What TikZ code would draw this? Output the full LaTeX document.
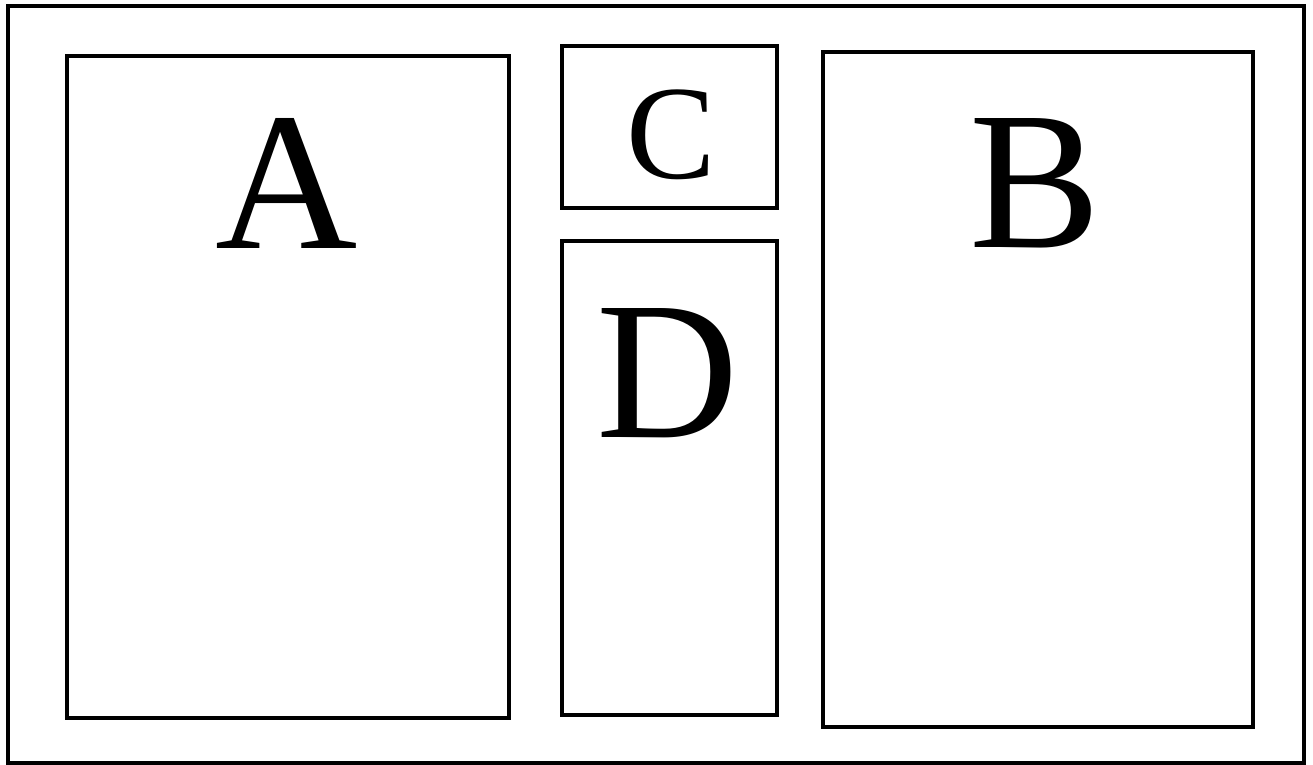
\documentclass[tikz,border=0pt]{standalone}
\usepackage{fontspec}
\setmainfont{Liberation Serif}
\begin{document}
\begin{tikzpicture}[x=1pt,y=-1pt,
  box/.style={draw=black,line width=3.2pt,inner sep=0pt,outer sep=0pt,rectangle},
  big/.style={anchor=base,inner sep=0pt,font=\fontsize{197}{200}\selectfont},
  mid/.style={anchor=base,inner sep=0pt,font=\fontsize{134}{140}\selectfont}]
\useasboundingbox (0,0) rectangle (1313,764);
\node[box,minimum width=1296pt,minimum height=757pt] (outer) at (656,384.5) {};
\node[box,minimum width=442pt,minimum height=662pt] (boxA) at (288,387) {};
\node[box,minimum width=215pt,minimum height=162pt] (boxC) at (669.5,127) {};
\node[box,minimum width=215pt,minimum height=474pt] (boxD) at (669.5,478) {};
\node[box,minimum width=430pt,minimum height=675pt] (boxB) at (1038,389.5) {};
\node[big] (la) at (287,248) {A};
\node[mid] (lc) at (671,178) {C};
\node[big] (ld) at (668,437) {D};
\node[big] (lb) at (1035,247) {B};
\end{tikzpicture}
\end{document}
